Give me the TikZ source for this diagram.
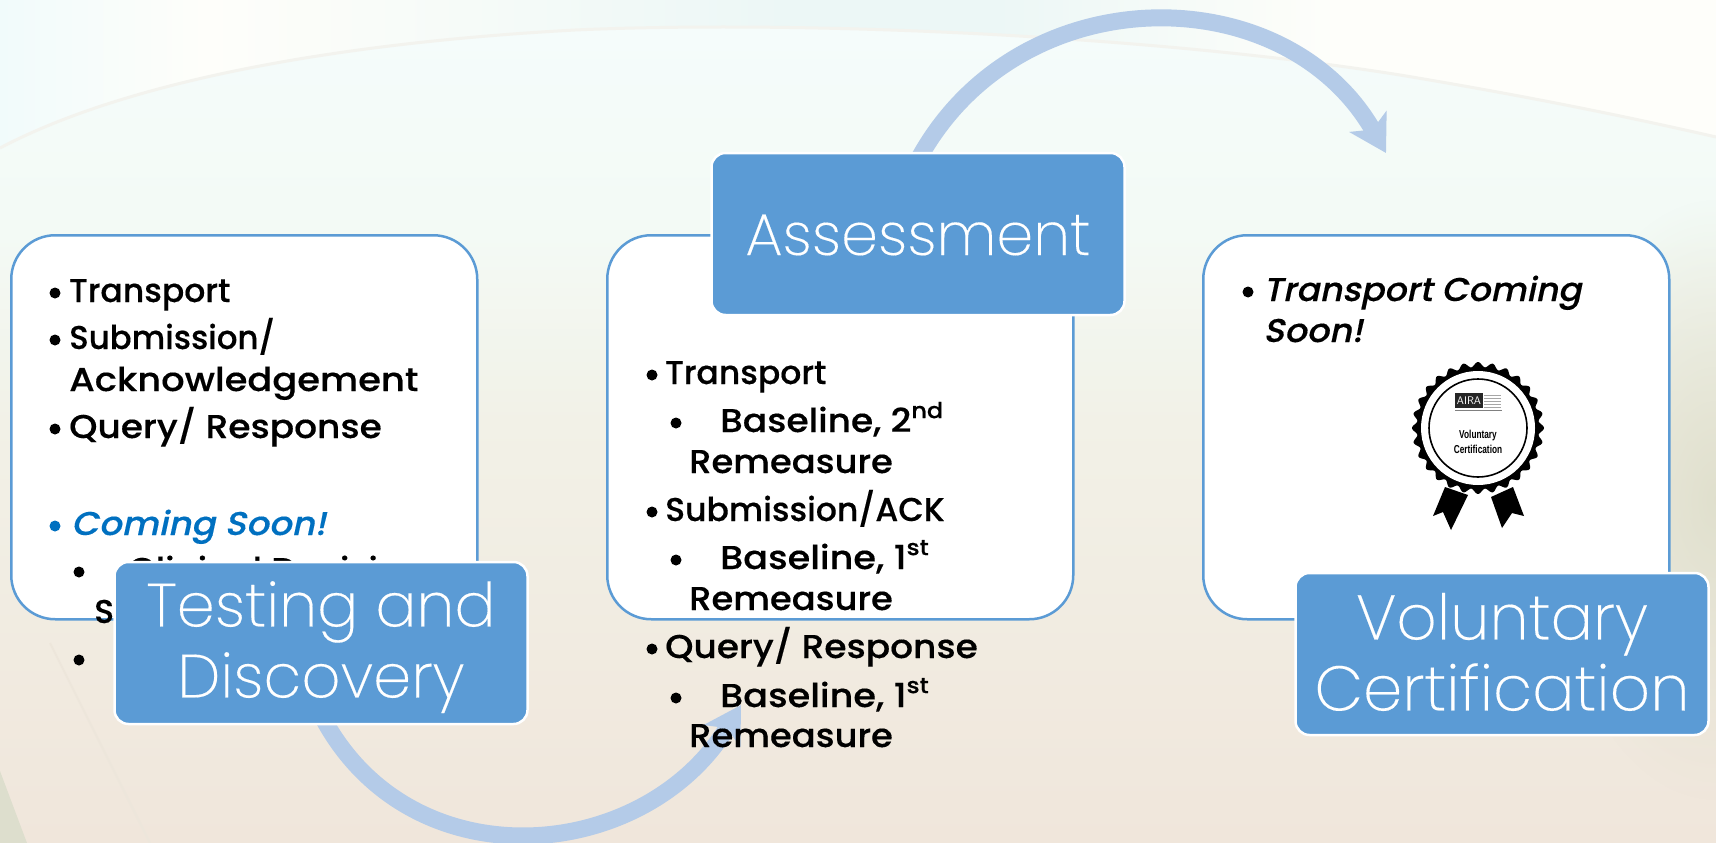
\documentclass[tikz,border=0pt]{standalone}
\usepackage{fontspec}
\usepackage{graphicx}
\usepackage{array}
\usetikzlibrary{arrows.meta,fadings}
\newfontfamily\titlef[FakeBold=0.25]{Poppins ExtraLight}
\newfontfamily\bodyf[FakeBold=0.3]{Poppins Medium}
\newfontfamily\bodyi[FakeSlant=0.2,FakeBold=0.3]{Poppins Medium}
\newfontfamily\badgef[FakeStretch=0.72]{Liberation Sans Bold}
\definecolor{edgeblue}{HTML}{5B9BD5}
\definecolor{arcblue}{HTML}{B4CBE8}
\definecolor{soonblue}{HTML}{0070C0}
\definecolor{swoosh}{HTML}{F3F3EE}
\definecolor{wedge}{HTML}{DDDECD}
\definecolor{sage}{HTML}{DEDECB}
\definecolor{streak}{HTML}{EDE6DB}
\definecolor{bgA}{HTML}{F0E6DB}
\definecolor{bgB}{HTML}{F2F1E7}
\definecolor{bgC}{HTML}{F3FAF5}
\definecolor{bgD}{HTML}{F5FCFC}
\definecolor{hA}{HTML}{F1FBFB}
\definecolor{hB}{HTML}{FEFEFA}
\definecolor{hC}{HTML}{ECF7F6}
\pgfdeclareverticalshading{bgv}{100bp}{
  color(0bp)=(bgA);color(25bp)=(bgA);color(50bp)=(bgB);color(61bp)=(bgC);color(75bp)=(bgD);color(100bp)=(bgD)}
\pgfdeclarehorizontalshading{bgh}{100bp}{
  color(0bp)=(hA);color(25bp)=(hA);color(31bp)=(hB);color(48bp)=(hC);color(54bp)=(hC);color(64bp)=(hB);color(100bp)=(hB)}
\tikzfading[name=softball,inner color=transparent!10,outer color=transparent!100]
\newcommand{\titletwo}[3]{\raisebox{#1}[0pt][0pt]{\begin{tabular}{@{}c@{}}#2\\#3\end{tabular}}}
\newcommand{\sx}[2]{\scalebox{#1}[1]{#2}}
\tikzset{
  x=1pt,y=-1pt,
  bodybox/.style={draw=edgeblue,line width=2.5pt,fill=white,rounded corners=44pt,minimum width=466pt,minimum height=384pt,anchor=north west},
  titlebox/.style={draw=white,line width=2.5pt,fill=edgeblue,rounded corners=14pt,minimum width=413pt,minimum height=162pt,text=white,inner sep=0pt},
  line0/.style={anchor=base west,inner sep=0pt,font=\bodyf\fontsize{33}{41}\selectfont},
  lineit/.style={line0,font=\bodyi\fontsize{33}{41}\selectfont},
  dot/.style={circle,fill=black,inner sep=0pt,minimum size=11pt},
  arcline/.style={draw=arcblue,line width=17pt,-{Stealth[length=36pt,width=42pt,inset=9pt]}},
}
\newcommand{\supr}[1]{\raisebox{.42em}{\fontsize{22}{22}\selectfont #1}}
\begin{document}
\begin{tikzpicture}
\useasboundingbox (0,0) rectangle (1716,843);
% background
\begin{scope}
\clip (0,0) rectangle (1716,843);
\path[shade,shading=bgv] (0,0) rectangle (1716,843);
\path[shade,shading=bgh] (0,148) .. controls (110,90) and (300,45) .. (575,30) .. controls (800,20) and (1150,35) .. (1400,75) .. controls (1520,95) and (1620,115) .. (1716,137) -- (1716,0) -- (0,0) -- cycle;
\draw[swoosh,line width=3pt] (0,148) .. controls (110,90) and (300,45) .. (575,30) .. controls (800,20) and (1150,35) .. (1400,75) .. controls (1520,95) and (1620,115) .. (1716,137);
\fill[sage,path fading=softball] (1716,500) ellipse [x radius=170pt,y radius=300pt];
\draw[streak,line width=2pt] (50,643) -- (150,843);
\fill[wedge] (0,771) -- (27,843) -- (0,843) -- cycle;
\end{scope}
% arcs
\coordinate (certin) at (1386,153);
\coordinate (assessout) at (918,160);
\coordinate (testout) at (324,720);
\coordinate (assessin) at (741,705);
\draw[arcline] (assessout) .. controls (1018,-25) and (1285,-24) .. (certin);
\draw[arcline] (testout) .. controls (414,884) and (645,863) .. (assessin);
% body boxes
\node[bodybox] (leftbox) at (10,234) {};
\node[bodybox] (midbox) at (606,234) {};
\node[bodybox] (rightbox) at (1202,234) {};
% left text
\node[dot] (l1) at (55,293) {};
\node[line0] (lt1) at (69,302) {Transport};
\node[dot] (l2) at (55,340) {};
\node[line0] (lt2) at (69,349) {\sx{.98}{Submission/}};
\node[line0] (lt3) at (69,391) {\sx{1.115}{Acknowledgement}};
\node[dot] (l3) at (55,429) {};
\node[line0] (lt4) at (69,438) {\sx{1.09}{Query/ Response}};
\node[dot,fill=soonblue] (l4) at (55,526) {};
\node[lineit,text=soonblue] (lt5) at (71,535) {\sx{1.08}{Coming Soon!}};
\node[dot] (l5) at (79,572) {};
\node[line0] (lt6) at (128,581) {\sx{1.08}{Clinical Decision}};
\node[line0] (lt7) at (94,623) {Support};
\node[dot] (l6) at (79,660) {};
% middle text
\node[dot] (m1) at (652,375) {};
\node[line0] (mt1) at (665,384) {Transport};
\node[dot] (m2) at (676,423) {};
\node[line0] (mt2) at (720,432) {\sx{1.09}{Baseline, 2\supr{nd}}};
\node[line0] (mt3) at (689,473) {\sx{1.07}{Remeasure}};
\node[dot] (m3) at (652,512) {};
\node[line0] (mt4) at (665,521) {Submission/ACK};
\node[dot] (m4) at (676,560) {};
\node[line0] (mt5) at (720,569) {\sx{1.11}{Baseline, 1\supr{st}}};
\node[line0] (mt6) at (689,610) {\sx{1.07}{Remeasure}};
\node[dot] (m5) at (652,649) {};
\node[line0] (mt7) at (665,658) {\sx{1.09}{Query/ Response}};
\node[dot] (m6) at (676,698) {};
\node[line0] (mt8) at (720,707) {\sx{1.11}{Baseline, 1\supr{st}}};
\node[line0] (mt9) at (689,747) {\sx{1.07}{Remeasure}};
% right text
\node[dot] (r1) at (1248,292) {};
\node[lineit] (rt1) at (1263,301) {\sx{1.05}{Transport Coming}};
\node[lineit] (rt2) at (1263,342) {\sx{1.06}{Soon!}};
% badge
\fill[white] (1405,353) rectangle (1552,535);
\fill[black] (1445,487) -- (1433,516) -- (1443,512) -- (1451,530) -- (1468,495) -- cycle;
\fill[black] (1513,487) -- (1524,516) -- (1512,513) -- (1502,528) -- (1491,497) -- cycle;
\fill[black,domain=0:360,samples=290,smooth] plot ({1478+(63.5+2.5*cos(28*\x))*cos(\x)},{428+(63.5+2.5*cos(28*\x))*sin(\x)}) -- cycle;
\node[circle,fill=white,inner sep=0pt,minimum size=114pt] (sealw) at (1478,428) {};
\node[circle,draw=black,line width=1.6pt,fill=white,inner sep=0pt,minimum size=98pt] (sealc) at (1478,428) {};
\node[fill=black!85,text=white,inner sep=0pt,minimum width=28pt,minimum height=15pt,font=\fontsize{11}{11}\selectfont\sffamily] (aira) at (1469,400.5) {AIRA};
\foreach \yy in {395,398,401,404,407}{\draw[gray!70,line width=.7pt] (1484,\yy) -- (1501,\yy);}
\draw[gray,line width=1.2pt] (1455,410.5) -- (1502,410.5);
\node[anchor=base,inner sep=0pt,font=\badgef\fontsize{11.5}{11.5}\selectfont] (sealt1) at (1478,438) {Voluntary};
\node[anchor=base,inner sep=0pt,font=\badgef\fontsize{11.5}{11.5}\selectfont] (sealt2) at (1478,453) {Certification};
% title boxes
\node[titlebox,font=\titlef\fontsize{61}{71}\selectfont] (testing) at (321,643) {\titletwo{-11pt}{Testing and}{Discovery}};
\node[titlebox,font=\titlef\fontsize{59}{71}\selectfont] (assess) at (918,234) {\raisebox{-21pt}[0pt][0pt]{Assessment}};
\node[titlebox,font=\titlef\fontsize{63}{71}\selectfont] (cert) at (1502,654) {\titletwo{-13pt}{Voluntary}{Certification}};
\end{tikzpicture}
\end{document}
